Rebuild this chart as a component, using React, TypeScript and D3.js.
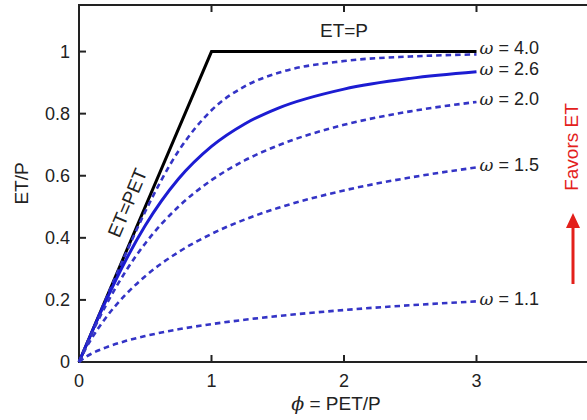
import React from "react";
import * as d3 from "d3";

// values (ET/P at each phi)
const phi = [0, 0.05, 0.1, 0.2, 0.35, 0.5, 0.75, 1, 1.25, 1.5, 2, 2.5, 3];
const etW40 = [0, 0.05, 0.1, 0.1996, 0.3463, 0.4847, 0.6789, 0.8108, 0.888, 0.9308, 0.9695, 0.9841, 0.9908];
const etW26 = [0, 0.0498, 0.099, 0.1942, 0.3254, 0.4395, 0.5893, 0.6945, 0.7669, 0.8172, 0.8791, 0.9136, 0.9349];
const etW20 = [0, 0.0488, 0.095, 0.1802, 0.2905, 0.382, 0.5, 0.5858, 0.6492, 0.6972, 0.7639, 0.8074, 0.8377];
const etW15 = [0, 0.0426, 0.079, 0.1412, 0.2163, 0.2764, 0.3539, 0.4126, 0.4588, 0.4959, 0.5527, 0.5944, 0.6267];
const etW11 = [0, 0.0164, 0.0281, 0.0463, 0.0673, 0.0836, 0.1052, 0.1221, 0.1361, 0.148, 0.1674, 0.1828, 0.1953];
const omegaLabels = ["4.0", "2.6", "2.0", "1.5", "1.1"];
const seriesValues = [etW40, etW26, etW20, etW15, etW11];

// limits: ET=PET then ET=P
const limitPhi = [0, 1, 3];
const limitEt = [0, 1, 1];

const xTicks = [0, 1, 2, 3, 4];
const xTickLabels = ["0", "1", "2", "3", ""];
const yTicks = [0, 0.2, 0.4, 0.6, 0.8, 1];

const W = 587;
const H = 420;
const margin = { left: 79, top: 5 };
const plotW = 530;
const plotH = 357;
const FONT = "'Liberation Sans', Arial, Helvetica, sans-serif";
const AX = "#222";

const App = () => {
  const x = d3.scaleLinear().domain([0, 4]).range([margin.left, margin.left + plotW]);
  const y = d3.scaleLinear().domain([0, 1.15]).range([margin.top + plotH, margin.top]);

  const line = d3
    .line<number>()
    .x((d, i) => x(phi[i]))
    .y((d) => y(d))
    .curve(d3.curveMonotoneX);

  const limitLine = d3
    .line<number>()
    .x((d, i) => x(limitPhi[i]))
    .y((d) => y(d));

  const x0 = x(0), x1 = x(4), y0 = y(0), y1 = y(1.15);

  // ET=PET label, placed beside the 1:1 line
  const ang = (Math.atan2(y(0) - y(1), x(1) - x(0)) * 180) / Math.PI;
  const rad = (ang * Math.PI) / 180;
  const lp = 0.49;
  const lx = x(lp) - Math.sin(rad) * 18;
  const ly = y(lp) - Math.cos(rad) * 18;

  return (
    <svg
      width={W}
      height={H}
      style={{ position: "absolute", left: 0, top: 0, background: "#fff" }}
      fontFamily={FONT}
    >
      {/* frame */}
      <rect x={x0} y={y1} width={x1 - x0} height={y0 - y1} fill="none" stroke={AX} strokeWidth={2} />

      {/* ticks */}
      {xTicks.map((t, i) => (
        <g key={"x" + t}>
          <line x1={x(t)} x2={x(t)} y1={y0} y2={y0 - 7} stroke={AX} strokeWidth={2} />
          <line x1={x(t)} x2={x(t)} y1={y1} y2={y1 + 7} stroke={AX} strokeWidth={2} />
          {xTickLabels[i] && (
            <text x={x(t)} y={y0 + 25} textAnchor="middle" fontSize={18} fill="#222">
              {xTickLabels[i]}
            </text>
          )}
        </g>
      ))}
      {yTicks.map((t) => (
        <g key={"y" + t}>
          <line x1={x0} x2={x0 + 7} y1={y(t)} y2={y(t)} stroke={AX} strokeWidth={2} />
          <line x1={x1} x2={x1 - 7} y1={y(t)} y2={y(t)} stroke={AX} strokeWidth={2} />
          <text x={x0 - 9} y={y(t)} dy="0.35em" textAnchor="end" fontSize={18} fill="#222">
            {t}
          </text>
        </g>
      ))}

      {/* Budyko limits */}
      <path d={limitLine(limitEt) || ""} fill="none" stroke="#000" strokeWidth={3} />

      {/* Fu curves */}
      {seriesValues.map((vals, i) => (
        <path
          key={omegaLabels[i]}
          d={line(vals) || ""}
          fill="none"
          stroke={omegaLabels[i] === "2.6" ? "#1c1cd2" : "#3434c6"}
          strokeWidth={omegaLabels[i] === "2.6" ? 3 : 2.6}
          strokeDasharray={omegaLabels[i] === "2.6" ? undefined : "5.5,4"}
        />
      ))}

      {/* curve labels */}
      {seriesValues.map((vals, i) => (
        <text
          key={"l" + omegaLabels[i]}
          x={x(3) + 3}
          y={y(vals[vals.length - 1]) - (i === 0 ? 7 : 3)}
          dy="0.35em"
          fontSize={18}
          fill="#222"
        >
          <tspan fontStyle="italic" fontFamily="'DejaVu Serif', serif" fontSize={17}>ω</tspan>
          {" = " + omegaLabels[i]}
        </text>
      ))}

      <text x={x(2)} y={y(1) - 15} textAnchor="middle" fontSize={19} fill="#222">
        ET=P
      </text>
      <text
        x={lx}
        y={ly}
        dy="0.35em"
        textAnchor="middle"
        fontSize={19}
        fill="#222"
        transform={`rotate(${-ang},${lx},${ly})`}
      >
        ET=PET
      </text>

      {/* axis titles */}
      <text x={(x0 + x1) / 2 - 8} y={y0 + 48} textAnchor="middle" fontSize={19} fill="#222">
        <tspan fontStyle="italic" fontFamily="'DejaVu Serif', serif">ϕ</tspan>
        {" = PET/P"}
      </text>
      <text
        transform={`translate(21,${(y0 + y1) / 2}) rotate(-90)`}
        dy="0.35em"
        textAnchor="middle"
        fontSize={19}
        fill="#222"
      >
        ET/P
      </text>

      {/* favors ET annotation */}
      <text
        transform="translate(571,147) rotate(-90)"
        dy="0.35em"
        textAnchor="middle"
        fontSize={19}
        fill="#e3201b"
      >
        Favors ET
      </text>
      <line x1={573} x2={573} y1={284} y2={226} stroke="#e3201b" strokeWidth={3} />
      <path d="M573,213 L566,228 L580,228 Z" fill="#e3201b" />
    </svg>
  );
};

export default App;
